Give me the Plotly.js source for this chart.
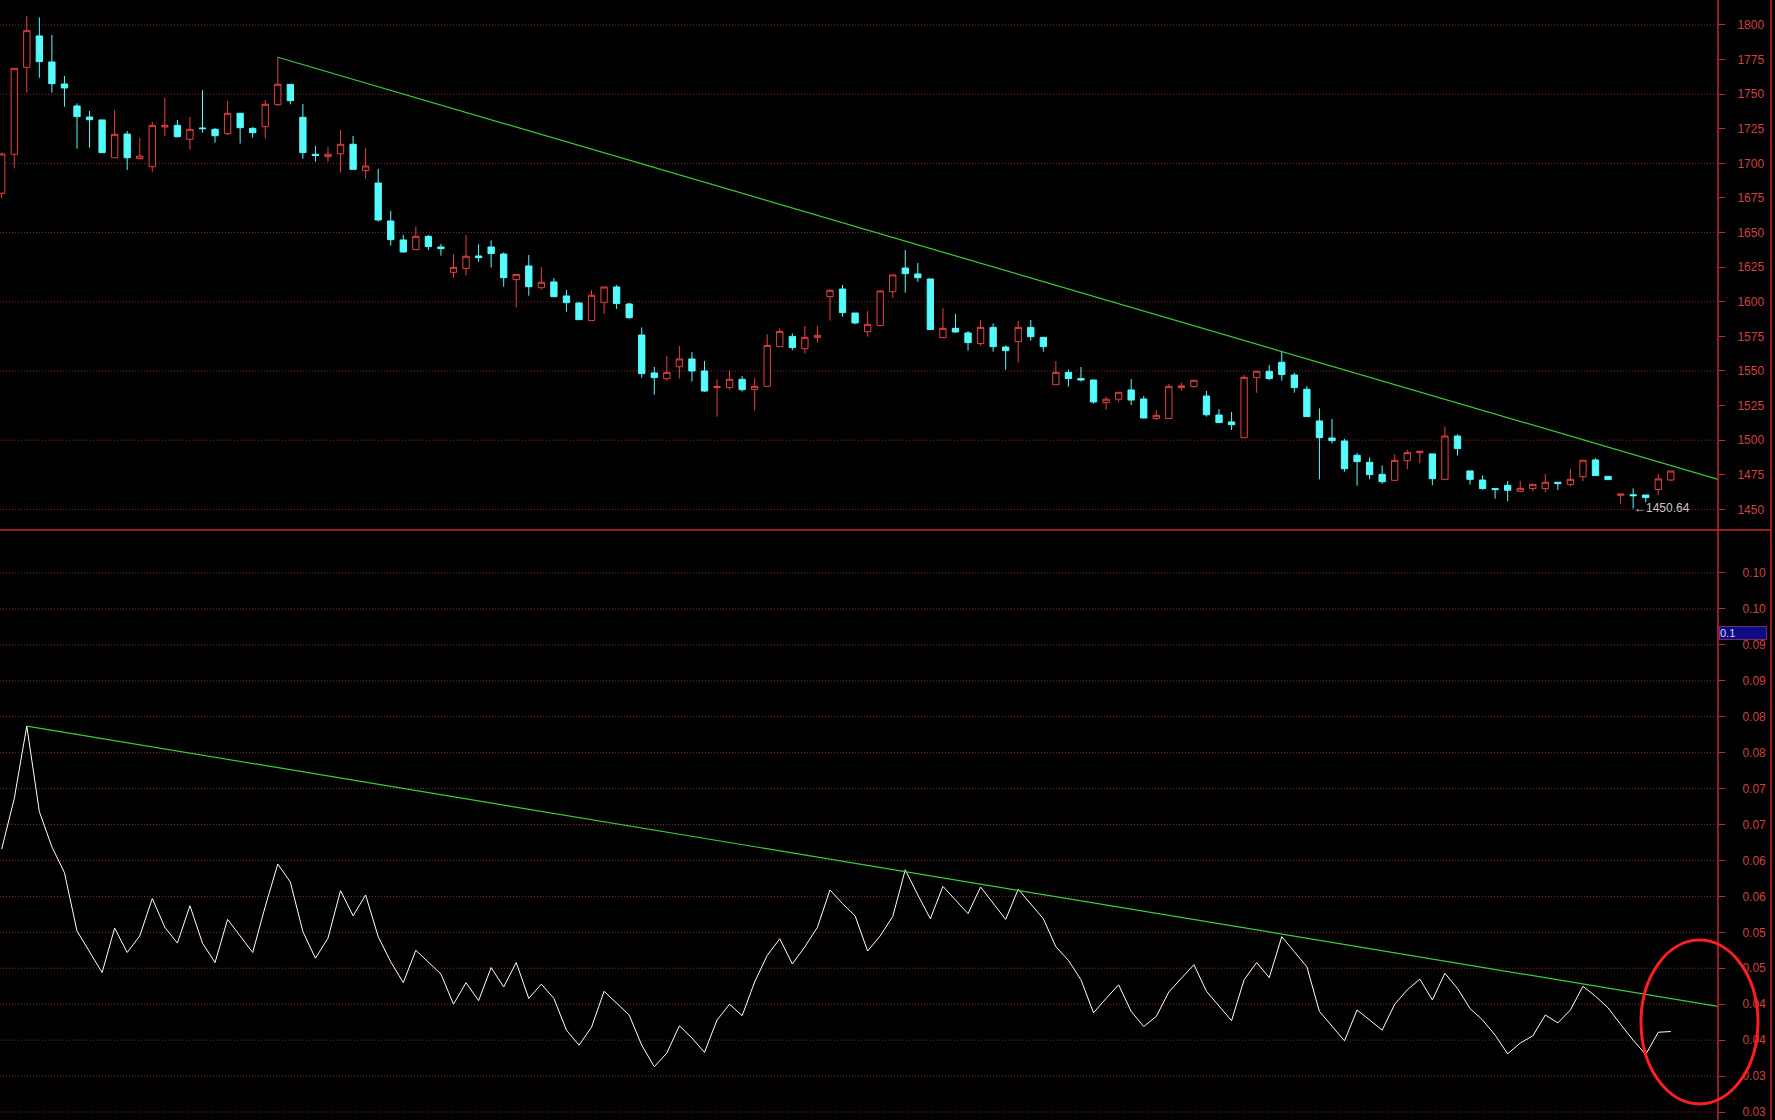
<!DOCTYPE html>
<html>
<head>
<meta charset="utf-8">
<script src="https://cdn.plot.ly/plotly-3.0.1.min.js"></script>
<style>
  html, body { margin: 0; padding: 0; background: #000; }
  #chart { width: 1775px; height: 1120px; }
</style>
</head>
<body>
<div id="chart"></div>
<script>
// ---------------- DATA ----------------
const openP = [
1678.4,1706.6,1769.4,1792.1,1773.3,1757.4,1741.5,1733.5,1731.4,1704.1,
1721.2,1703.4,1697.6,1726.3,1727.5,1717.4,1725.6,1724.6,1721.5,1736.2,
1725.3,1726.5,1742.4,1757.1,1733.3,1706.6,1704.9,1707.0,1713.8,1694.8,
1685.8,1658.4,1644.7,1637.7,1647.3,1639.6,1621.3,1624.0,1633.1,1639.6,
1634.5,1616.0,1625.9,1610.2,1614.3,1604.2,1599.1,1586.4,1599.6,1610.7,
1598.4,1576.0,1548.6,1544.5,1553.1,1558.7,1550.0,1538.0,1538.0,1544.0,
1536.7,1538.9,1567.6,1575.0,1566.1,1574.3,1603.7,1609.2,1591.9,1578.4,
1582.8,1607.3,1624.4,1620.1,1616.5,1574.1,1580.8,1577.5,1569.8,1581.5,
1567.3,1571.2,1581.5,1574.3,1540.1,1549.0,1544.5,1543.5,1527.1,1529.6,
1536.3,1529.8,1515.6,1515.6,1538.0,1538.7,1531.9,1518.2,1513.2,1501.8,
1545.2,1549.8,1556.3,1547.1,1536.8,1513.9,1501.6,1499.4,1489.1,1484.0,
1475.3,1471.0,1485.2,1491.0,1490.1,1471.7,1503.0,1477.8,1471.2,1465.0,
1467.4,1463.1,1465.0,1465.0,1469.6,1467.9,1473.6,1485.7,1473.9,1460.2,
1460.6,1460.4,1464.3,1471.2];
const highP = [
1707.8,1768.7,1806.5,1805.5,1792.8,1763.2,1743.4,1737.9,1731.4,1738.6,
1723.4,1718.6,1729.9,1747.3,1731.4,1733.5,1753.0,1725.6,1745.1,1736.2,
1726.3,1745.8,1776.7,1757.1,1742.9,1712.6,1711.9,1724.1,1719.8,1711.1,
1696.0,1665.6,1648.3,1654.3,1648.3,1641.8,1634.5,1648.3,1641.5,1644.4,
1635.7,1619.8,1633.8,1625.1,1617.0,1608.5,1599.9,1608.5,1610.7,1612.2,
1599.4,1581.5,1552.9,1560.8,1568.0,1563.7,1557.2,1544.0,1550.7,1546.4,
1544.9,1576.5,1580.8,1577.2,1582.5,1582.5,1609.0,1612.2,1591.9,1593.3,
1608.5,1619.4,1637.4,1628.0,1616.5,1595.3,1591.2,1578.9,1586.9,1584.4,
1568.5,1586.1,1586.9,1574.3,1557.2,1551.2,1552.9,1543.5,1531.4,1534.6,
1544.2,1531.9,1521.8,1540.6,1541.6,1543.3,1535.6,1522.5,1520.4,1547.1,
1549.8,1554.3,1564.0,1548.8,1539.2,1523.0,1515.3,1500.9,1490.8,1487.6,
1481.8,1489.8,1492.9,1492.0,1490.1,1509.8,1504.2,1477.8,1474.6,1465.0,
1470.5,1470.5,1468.1,1475.6,1469.6,1479.0,1485.5,1486.9,1473.9,1461.1,
1465.2,1460.4,1475.6,1477.7];
const lowP = [
1675.0,1696.4,1751.1,1761.9,1751.1,1741.0,1710.6,1711.4,1707.8,1704.1,
1695.2,1703.4,1694.0,1719.8,1718.6,1709.9,1722.2,1715.0,1720.5,1714.3,
1718.6,1717.9,1741.5,1742.7,1703.4,1701.3,1701.3,1693.3,1695.7,1689.0,
1657.9,1640.6,1635.5,1637.7,1637.4,1633.3,1617.4,1619.1,1628.8,1624.7,
1610.9,1595.8,1604.4,1608.8,1603.7,1592.9,1587.1,1586.4,1591.4,1594.8,
1587.8,1545.2,1532.9,1543.0,1544.5,1542.3,1534.8,1517.0,1536.5,1535.1,
1521.3,1538.9,1567.6,1564.9,1562.5,1570.5,1586.4,1589.2,1583.7,1574.8,
1582.8,1603.0,1606.6,1614.5,1579.9,1574.1,1577.7,1564.7,1568.3,1564.0,
1551.0,1556.0,1571.9,1564.0,1540.1,1538.7,1542.3,1526.4,1522.0,1527.6,
1525.4,1516.0,1514.6,1515.6,1535.8,1538.0,1517.0,1512.7,1507.4,1501.8,
1534.3,1543.5,1543.0,1534.3,1517.0,1471.7,1497.7,1477.3,1467.1,1471.7,
1468.4,1471.0,1479.0,1483.3,1467.4,1471.7,1488.8,1467.9,1464.3,1457.8,
1455.8,1463.1,1463.1,1462.3,1464.0,1466.7,1470.5,1474.4,1471.5,1454.1,
1450.64,1455.1,1460.4,1470.5];
const closeP = [
1706.8,1768.7,1795.9,1773.5,1757.6,1754.5,1733.8,1731.6,1707.8,1721.0,
1704.1,1705.3,1727.5,1727.5,1719.3,1724.6,1725.1,1720.0,1736.2,1725.8,
1722.2,1742.7,1757.2,1745.3,1707.8,1705.6,1706.6,1713.8,1695.7,1698.1,
1659.1,1644.9,1636.0,1647.3,1639.9,1638.4,1624.9,1632.9,1631.9,1634.8,
1617.4,1619.8,1610.9,1614.1,1603.7,1599.4,1587.1,1604.7,1610.7,1598.7,
1588.5,1548.1,1545.2,1549.0,1558.7,1550.0,1535.5,1538.7,1544.0,1536.5,
1538.9,1568.5,1578.6,1566.9,1574.3,1575.8,1608.3,1592.2,1584.7,1583.7,
1607.8,1619.4,1620.3,1617.4,1579.9,1580.8,1578.2,1570.5,1581.5,1567.6,
1564.7,1581.5,1574.8,1567.6,1549.0,1544.5,1543.5,1527.6,1529.6,1534.6,
1529.0,1516.0,1518.0,1538.9,1539.2,1543.3,1518.4,1512.7,1511.2,1545.4,
1549.8,1544.5,1547.4,1538.0,1517.0,1501.8,1499.7,1479.4,1484.5,1475.1,
1470.0,1485.4,1491.0,1492.0,1472.2,1503.0,1493.9,1471.7,1465.0,1464.3,
1463.8,1465.2,1468.1,1469.6,1468.6,1471.7,1485.5,1474.4,1471.5,1461.1,
1459.9,1458.5,1472.0,1477.7];
const ratio = [
0.0666,0.0736,0.0837,0.0718,0.0669,0.0633,0.0552,0.0522,0.0494,0.0556,
0.0522,0.0545,0.0597,0.0557,0.0535,0.0587,0.0535,0.0508,0.0568,0.0545,
0.0522,0.0586,0.0645,0.0620,0.0551,0.0514,0.0542,0.0608,0.0573,0.0602,
0.0544,0.0509,0.0480,0.0525,0.0509,0.0492,0.0450,0.0480,0.0455,0.0501,
0.0474,0.0508,0.0458,0.0478,0.0458,0.0414,0.0393,0.0418,0.0468,0.0451,
0.0435,0.0393,0.0363,0.0382,0.0420,0.0403,0.0383,0.0428,0.0450,0.0434,
0.0481,0.0518,0.0541,0.0506,0.0530,0.0557,0.0609,0.0590,0.0573,0.0524,
0.0545,0.0572,0.0637,0.0602,0.0569,0.0614,0.0595,0.0576,0.0613,0.0590,
0.0568,0.0610,0.0590,0.0569,0.0530,0.0511,0.0484,0.0438,0.0458,0.0477,
0.0440,0.0419,0.0433,0.0467,0.0486,0.0505,0.0468,0.0447,0.0427,0.0484,
0.0508,0.0487,0.0544,0.0523,0.0502,0.0440,0.0419,0.0399,0.0442,0.0428,
0.0414,0.0450,0.0470,0.0485,0.0456,0.0493,0.0472,0.0444,0.0428,0.0407,
0.0381,0.0396,0.0406,0.0435,0.0424,0.0442,0.0475,0.0461,0.0445,0.0422,
0.0400,0.0380,0.0411,0.0412];
const barIndex = closeP.map((_, i) => i);

// trend lines
const priceTrendX = [22, 136.76];
const priceTrendY = [1776.7, 1471.7];
const ratioTrendX = [2, 136.76];
const ratioTrendY = [0.0837, 0.0447];

// axis ticks
const priceTicks = [1450,1475,1500,1525,1550,1575,1600,1625,1650,1675,1700,1725,1750,1775,1800];
const priceGrid  = [1450,1500,1550,1600,1650,1700,1750,1800];
const ratioTicks = [0.030,0.035,0.040,0.045,0.050,0.055,0.060,0.065,0.070,0.075,0.080,0.085,0.090,0.095,0.100,0.105];
const ratioLabels = ['0.03','0.03','0.04','0.04','0.05','0.05','0.06','0.06','0.07','0.07','0.08','0.08','0.09','0.09','0.10','0.10'];

// low marker
const lowMarkIndex = 130;
const lowMarkValue = 1450.64;
const lowMarkText = '←1450.64';
// current value tag
const tagValue = 0.0966;
const tagText = '0.1';

// ---------------- LAYOUT ----------------
const W = 1775, H = 1120;
const plotRight = 1718;            // px, end of plot area
const splitY = 530;                // px, separator between panels
const splitPaper = 1 - splitY / H;

const RED = '#c82828';
const LABEL = '#d04040';
const GRID = '#8a2a2a';
const fontFam = 'Liberation Sans, Arial, sans-serif';

const shapes = [];
priceGrid.forEach(v => shapes.push({
  type: 'line', xref: 'paper', yref: 'y', x0: 0, x1: 0.998, y0: v, y1: v,
  line: { color: GRID, width: 1, dash: '1px,2px' }, layer: 'below'
}));
ratioTicks.forEach(v => shapes.push({
  type: 'line', xref: 'paper', yref: 'y2', x0: 0, x1: 0.998, y0: v, y1: v,
  line: { color: GRID, width: 1, dash: '1px,2px' }, layer: 'below'
}));
// frame lines
shapes.push({ type: 'line', xref: 'paper', yref: 'paper', x0: 1, x1: 1, y0: 0, y1: 1,
  line: { color: RED, width: 1.5 } });
shapes.push({ type: 'line', xref: 'paper', yref: 'paper', x0: 1771/plotRight, x1: 1771/plotRight, y0: 0, y1: 1,
  line: { color: RED, width: 1.5 } });
shapes.push({ type: 'line', xref: 'paper', yref: 'paper', x0: 0, x1: 1771/plotRight, y0: splitPaper, y1: splitPaper,
  line: { color: RED, width: 1.5 } });
// red highlight ellipse
shapes.push({ type: 'circle', xref: 'paper', yref: 'paper',
  x0: 1641/plotRight, x1: 1758/plotRight, y0: 1 - 1104/H, y1: 1 - 940/H,
  line: { color: '#ff1e1e', width: 3 } });

const traces = [
  {
    type: 'candlestick', x: barIndex, open: openP, high: highP, low: lowP, close: closeP,
    xaxis: 'x', yaxis: 'y',
    increasing: { line: { color: '#e84040', width: 1 }, fillcolor: '#000000' },
    decreasing: { line: { color: '#54fcfc', width: 1 }, fillcolor: '#54fcfc' },
    whiskerwidth: 0, hoverinfo: 'skip', showlegend: false
  },
  {
    type: 'scatter', mode: 'lines', x: priceTrendX, y: priceTrendY, xaxis: 'x', yaxis: 'y',
    line: { color: '#3ccc3c', width: 1.2 }, hoverinfo: 'skip', showlegend: false
  },
  {
    type: 'scatter', mode: 'lines', x: barIndex, y: ratio, xaxis: 'x', yaxis: 'y2',
    line: { color: '#ffffff', width: 1 }, hoverinfo: 'skip', showlegend: false
  },
  {
    type: 'scatter', mode: 'lines', x: ratioTrendX, y: ratioTrendY, xaxis: 'x', yaxis: 'y2',
    line: { color: '#3ccc3c', width: 1.2 }, hoverinfo: 'skip', showlegend: false
  }
];

const layout = {
  width: W, height: H,
  margin: { l: 0, r: W - plotRight, t: 0, b: 0, pad: 0 },
  paper_bgcolor: '#000000', plot_bgcolor: '#000000',
  showlegend: false, boxgap: 0.28,
  font: { family: fontFam, color: LABEL, size: 12 },
  xaxis: {
    range: [-0.135, 136.76], showgrid: false, zeroline: false, showticklabels: false,
    ticks: '', showline: false, rangeslider: { visible: false }, fixedrange: true
  },
  yaxis: {
    domain: [splitPaper, 1], range: [1435.1, 1818.06], side: 'right', anchor: 'x',
    tickmode: 'array', tickvals: priceTicks, ticks: 'outside', ticklen: 6, tickcolor: RED,
    ticklabelstandoff: 10, tickfont: { family: fontFam, size: 12, color: LABEL },
    showgrid: false, zeroline: false, showline: false, fixedrange: true
  },
  yaxis2: {
    domain: [0, splitPaper], range: [0.02889, 0.11098], side: 'right', anchor: 'x',
    tickmode: 'array', tickvals: ratioTicks, ticktext: ratioLabels,
    ticks: 'outside', ticklen: 6, tickcolor: RED,
    ticklabelstandoff: 15, tickfont: { family: fontFam, size: 12, color: LABEL },
    showgrid: false, zeroline: false, showline: false, fixedrange: true
  },
  shapes: shapes,
  annotations: [
    {
      xref: 'x', yref: 'y', x: lowMarkIndex, y: lowMarkValue, text: lowMarkText,
      showarrow: false, xanchor: 'left', yanchor: 'middle', xshift: -1,
      font: { family: fontFam, size: 12, color: '#c8c8c8' }
    },
    {
      xref: 'paper', yref: 'y2', x: 1719/plotRight, y: tagValue, text: tagText,
      showarrow: false, xanchor: 'left', yanchor: 'middle', align: 'left',
      width: 46, height: 12, bgcolor: '#0c0c84', bordercolor: '#7a2a6a', borderwidth: 1, borderpad: 0,
      font: { family: fontFam, size: 11, color: '#d8d8ff' }
    }
  ]
};

Plotly.newPlot('chart', traces, layout, { staticPlot: true, displayModeBar: false });
</script>
</body>
</html>
